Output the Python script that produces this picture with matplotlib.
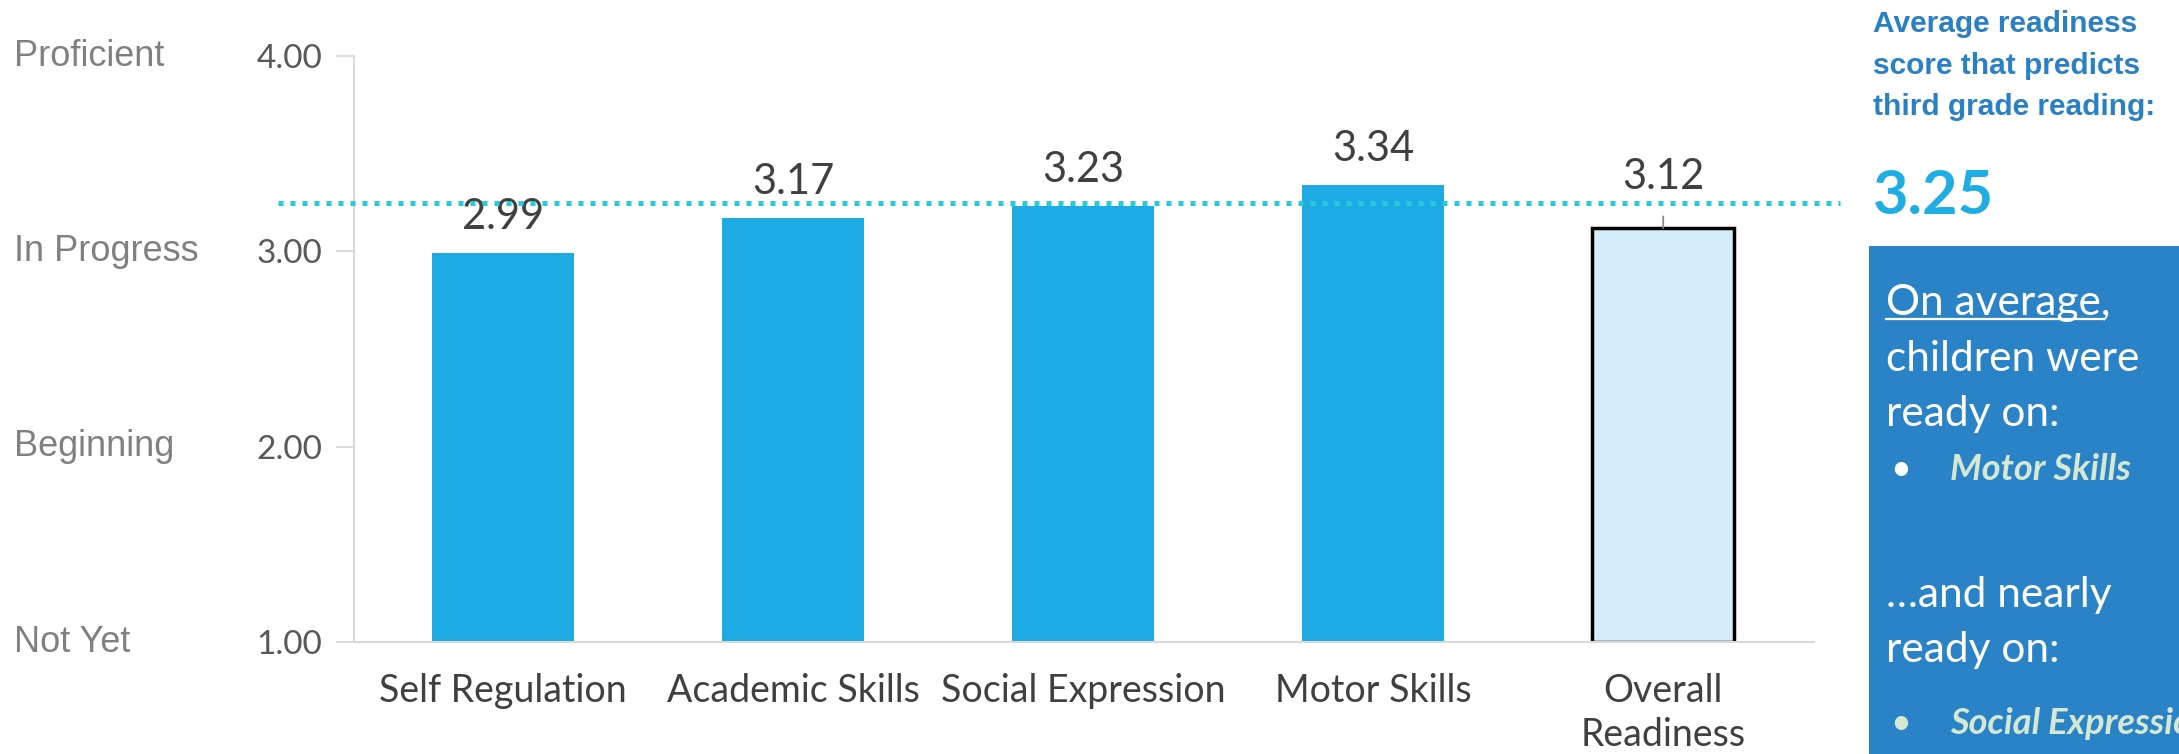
import matplotlib.pyplot as plt
from matplotlib.patches import Rectangle
from matplotlib.lines import Line2D
from matplotlib.transforms import blended_transform_factory

categories = ["Self Regulation", "Academic Skills", "Social Expression", "Motor Skills", "Overall\nReadiness"]
scores = [2.99, 3.17, 3.23, 3.34, 3.12]
target = 3.25
level_names = ["Not Yet", "Beginning", "In Progress", "Proficient"]
level_ticks = [1, 2, 3, 4]

BAR = "#1eaae2"
LIGHT = "#d4edf9"
BOX = "#2a83c6"
CYAN = "#1eaee3"
DOT = "#27cbd9"
SANS = ["Liberation Sans", "DejaVu Sans"]
GOTH = ["Lato", "DejaVu Sans"]

fig = plt.figure(figsize=(21.79, 7.54), dpi=100)
ax = fig.add_axes([354 / 2179, 112 / 754, 1460 / 2179, 586 / 754])

x = list(range(len(categories)))
colors = [BAR] * (len(scores) - 1) + [LIGHT]
edges = ["none"] * (len(scores) - 1) + ["black"]
ax.bar(x, [s - 1 for s in scores], bottom=1, width=0.49, color=colors,
       edgecolor=edges, linewidth=2.5, zorder=2)

for i, s in enumerate(scores):
    if i == len(scores) - 1:
        ax.annotate(f"{s:.2f}", xy=(i, s), xytext=(0, 37), textcoords="offset points",
                    ha="center", va="center", fontsize=30, color="#404040", family=GOTH,
                    arrowprops=dict(arrowstyle="-", color="#8c8c8c", lw=1.3,
                                    shrinkA=13, shrinkB=0))
    else:
        ax.annotate(f"{s:.2f}", xy=(i, s), xytext=(0, 26), textcoords="offset points",
                    ha="center", va="center", fontsize=30, color="#404040", family=GOTH)

ax.plot([-0.776, 4.61], [target, target], color=DOT, lw=3.6,
        linestyle=(0, (1, 1.4)), solid_capstyle="butt", dash_capstyle="butt",
        clip_on=False, zorder=3)

ax.set_xlim(-0.514, 4.52)
ax.set_ylim(1, 4)
ax.set_yticks(level_ticks)
ax.set_yticklabels([f"{v:.2f}" for v in level_ticks], family=GOTH, fontsize=24, color="#595959")
ax.set_xticks(x)
ax.set_xticklabels(categories, family=GOTH, fontsize=27, color="#404040", linespacing=1.3)
ax.tick_params(axis="y", length=13, width=1.3, color="#d9d9d9", pad=10)
ax.tick_params(axis="x", length=0, pad=22)
for side in ["top", "right"]:
    ax.spines[side].set_visible(False)
for side in ["left", "bottom"]:
    ax.spines[side].set_color("#d9d9d9")
    ax.spines[side].set_linewidth(1.5)

trans = blended_transform_factory(fig.transFigure, ax.transData)
for name, t in zip(level_names, level_ticks):
    ax.text(14 / 2179, t, name, transform=trans,
            ha="left", va="center", fontsize=26, color="#808080", family=SANS)

# right-hand panel
fig.text(1873 / 2179, 1 - 10 / 754, "Average readiness\nscore that predicts\nthird grade reading:",
         ha="left", va="top", fontsize=21.5, fontweight="bold", color="#2a80c4",
         family=SANS, linespacing=1.62)
fig.text(1873 / 2179, 1 - 196 / 754, f"{target:.2f}", ha="left", va="center",
         fontsize=44, fontweight="bold", color=CYAN, family=GOTH)

fig.patches.append(Rectangle((1869 / 2179, 0), 1 - 1869 / 2179, 508 / 754,
                             transform=fig.transFigure, facecolor=BOX, edgecolor="none"))

lx = 1886 / 2179
lines = [("children were", 359), ("ready on:", 414), ("\u2026and nearly", 595), ("ready on:", 650)]
t0 = fig.text(lx, 1 - 303 / 754, "On average,", ha="left", va="center", fontsize=30.5,
              color="white", family=GOTH)
for s, yy in lines:
    fig.text(lx, 1 - yy / 754, s, ha="left", va="center", fontsize=30.5, color="white", family=GOTH)

for label, yy, bcol in [("Motor Skills", 470, "white"), ("Social Expression", 723, "#d5e8d4")]:
    fig.text(1890 / 2179, 1 - yy / 754, "\u2022", ha="left", va="center", fontsize=26,
             color=bcol, family=GOTH)
    fig.text(1950 / 2179, 1 - yy / 754, label, ha="left", va="center", fontsize=26,
             fontweight="bold", fontstyle="italic", color="#d5e8d4", family=GOTH)

fig.canvas.draw()
bb = t0.get_window_extent(fig.canvas.get_renderer())
fig.lines.append(Line2D([bb.x0, bb.x1 - 8], [bb.y0 + 3, bb.y0 + 3], color="white", lw=1.6,
                        transform=None))

fig.savefig("out.png", dpi=100)
